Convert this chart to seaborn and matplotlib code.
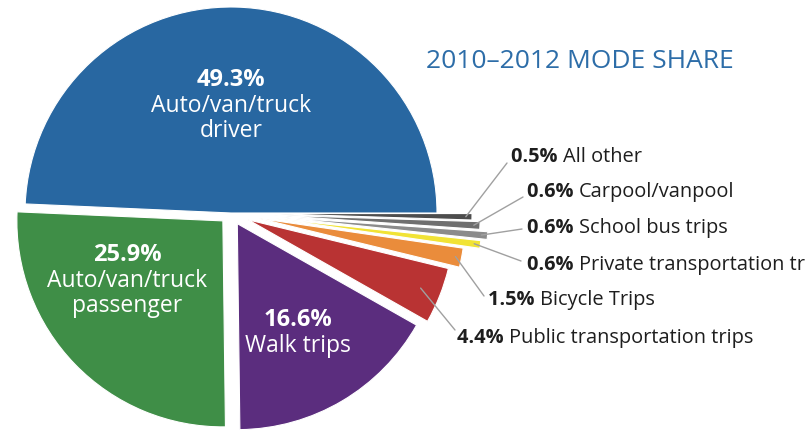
import matplotlib
matplotlib.use("Agg")
import numpy as np
import matplotlib.pyplot as plt
import seaborn as sns

# 2010-2012 mode share data
modes = ["Auto/van/truck\ndriver", "Auto/van/truck\npassenger", "Walk trips",
         "Public transportation trips", "Bicycle Trips", "Private transportation tr",
         "School bus trips", "Carpool/vanpool", "All other"]
shares = [49.3, 25.9, 16.6, 4.4, 1.5, 0.6, 0.6, 0.6, 0.5]
share_labels = ["49.3%", "25.9%", "16.6%", "4.4%", "1.5%", "0.6%", "0.6%", "0.6%", "0.5%"]
colors = ["#2867a1", "#3f8e47", "#5b2d7e", "#b93333", "#ea8c3b",
          "#f1e335", "#8b8b8b", "#6f6f6f", "#4d4d4d"]
explode = [0.0, 0.055, 0.06, 0.09, 0.14, 0.22, 0.25, 0.21, 0.17]

sns.set_theme(style="white")
plt.rcParams["font.family"] = ["Open Sans", "DejaVu Sans"]

# pixel helpers: pie centre at (231, 213) px, radius 206 px
CX, CY, R = 231, 213, 206
W, H = 809, 434


def px(x, y):
    return (x - CX) / R, (CY - y) / R


fig = plt.figure(figsize=(W / 100, H / 100), dpi=100)
ax = fig.add_axes([0, 0, 1, 1])

wedges, _ = ax.pie(shares, colors=colors, explode=explode, startangle=0,
                   counterclock=True,
                   wedgeprops=dict(edgecolor="white", linewidth=0.8))
ax.set_aspect("auto")
ax.set_xlim(-CX / R, (W - CX) / R)
ax.set_ylim(-(H - CY) / R, CY / R)
ax.axis("off")

# labels inside the three large slices
inside_pos = [px(231, 80), px(127, 255), px(298, 320)]
for i, (x, y) in enumerate(inside_pos):
    ax.text(x, y, share_labels[i], color="white", fontsize=17, fontweight="bold",
            ha="center", va="center")
    ax.text(x, y - 14 / R, modes[i], color="white", fontsize=16.5,
            ha="center", va="top", linespacing=1.03)

# outside labels with leader lines for the small slices
label_pos = [px(457, 338), px(488, 300), px(527, 265),
             px(527, 228), px(527, 192), px(511, 157)]
line_end = [px(455, 330), px(484, 296), px(521, 261),
            px(522, 229), px(523, 197), px(507, 163)]
for k, i in enumerate(range(3, 9)):
    w = wedges[i]
    ang = np.deg2rad((w.theta1 + w.theta2) / 2)
    cx, cy = w.center
    r_in = 0.97 if i > 3 else 0.9
    sx, sy = cx + r_in * np.cos(ang), cy + r_in * np.sin(ang)
    ex, ey = line_end[k]
    ax.plot([sx, ex], [sy, ey], color="#a0a0a0", lw=1.0)
    lx, ly = label_pos[k]
    t = ax.text(lx, ly, share_labels[i] + " ", fontsize=14.4, fontweight="bold",
                color="#1e1e1e", ha="left", va="center")
    ax.annotate(modes[i], xycoords=t, xy=(1, 0.5), va="center", ha="left",
                fontsize=14.4, color="#1e1e1e")

ax.text(*px(580, 62), "2010\u20132012 MODE SHARE", color="#2d6da8", fontsize=19,
        ha="center", va="center")

fig.savefig("out.png", dpi=100)
